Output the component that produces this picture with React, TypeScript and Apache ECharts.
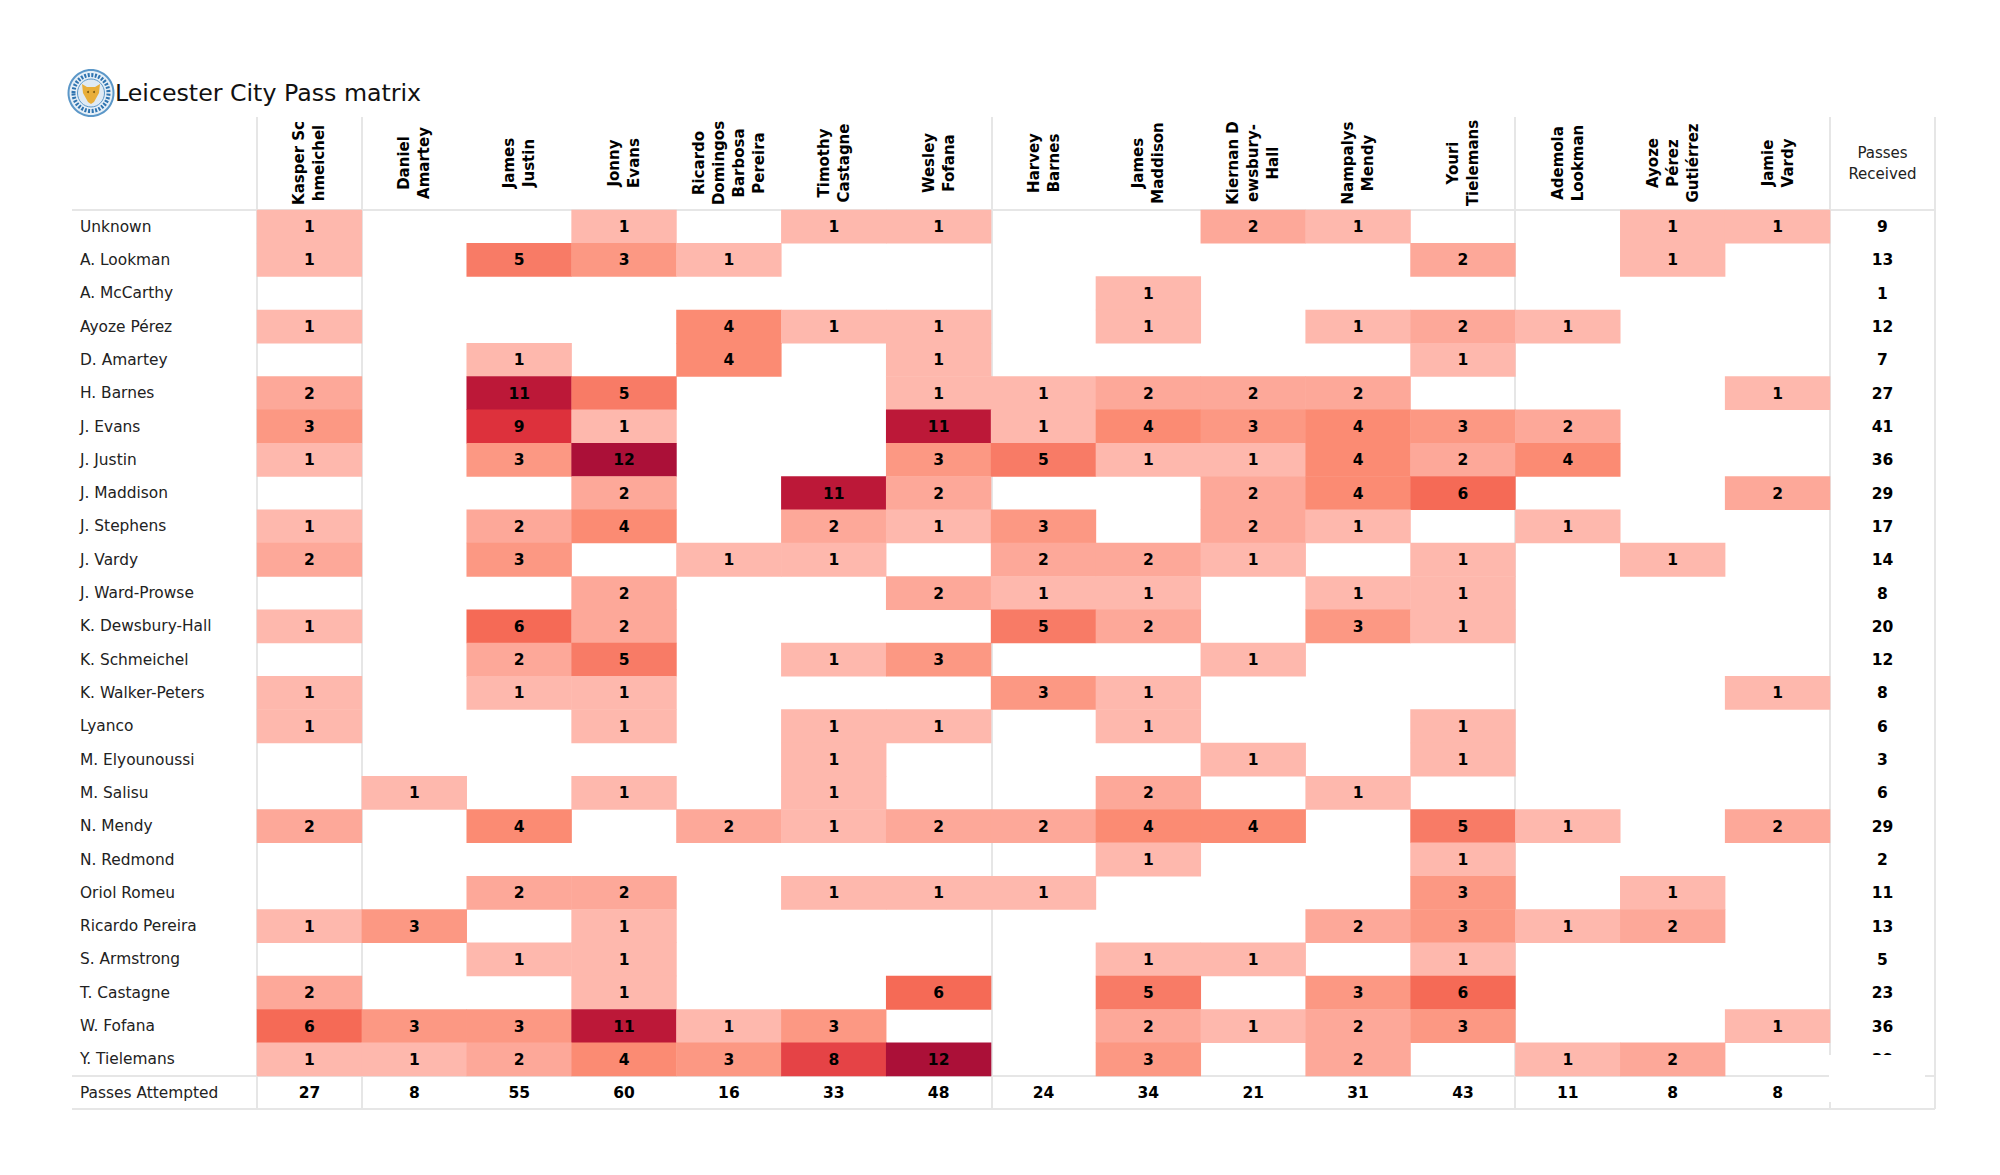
import React, { useEffect, useRef } from "react";
import * as echarts from "echarts";

const passers = ["Kasper Sc\nhmeichel","Daniel\nAmartey","James\nJustin","Jonny\nEvans","Ricardo\nDomingos\nBarbosa\nPereira","Timothy\nCastagne","Wesley\nFofana","Harvey\nBarnes","James\nMaddison","Kiernan D\newsbury-\nHall","Nampalys\nMendy","Youri\nTielemans","Ademola\nLookman","Ayoze\nPérez\nGutiérrez","Jamie\nVardy"];
const receivers = ["Unknown","A. Lookman","A. McCarthy","Ayoze Pérez","D. Amartey","H. Barnes","J. Evans","J. Justin","J. Maddison","J. Stephens","J. Vardy","J. Ward-Prowse","K. Dewsbury-Hall","K. Schmeichel","K. Walker-Peters","Lyanco","M. Elyounoussi","M. Salisu","N. Mendy","N. Redmond","Oriol Romeu","Ricardo Pereira","S. Armstrong","T. Castagne","W. Fofana","Y. Tielemans"];
const _ = null;
const matrix: (number | null)[][] = [
  [1,_,_,1,_,1,1,_,_,2,1,_,_,1,1],
  [1,_,5,3,1,_,_,_,_,_,_,2,_,1,_],
  [_,_,_,_,_,_,_,_,1,_,_,_,_,_,_],
  [1,_,_,_,4,1,1,_,1,_,1,2,1,_,_],
  [_,_,1,_,4,_,1,_,_,_,_,1,_,_,_],
  [2,_,11,5,_,_,1,1,2,2,2,_,_,_,1],
  [3,_,9,1,_,_,11,1,4,3,4,3,2,_,_],
  [1,_,3,12,_,_,3,5,1,1,4,2,4,_,_],
  [_,_,_,2,_,11,2,_,_,2,4,6,_,_,2],
  [1,_,2,4,_,2,1,3,_,2,1,_,1,_,_],
  [2,_,3,_,1,1,_,2,2,1,_,1,_,1,_],
  [_,_,_,2,_,_,2,1,1,_,1,1,_,_,_],
  [1,_,6,2,_,_,_,5,2,_,3,1,_,_,_],
  [_,_,2,5,_,1,3,_,_,1,_,_,_,_,_],
  [1,_,1,1,_,_,_,3,1,_,_,_,_,_,1],
  [1,_,_,1,_,1,1,_,1,_,_,1,_,_,_],
  [_,_,_,_,_,1,_,_,_,1,_,1,_,_,_],
  [_,1,_,1,_,1,_,_,2,_,1,_,_,_,_],
  [2,_,4,_,2,1,2,2,4,4,_,5,1,_,2],
  [_,_,_,_,_,_,_,_,1,_,_,1,_,_,_],
  [_,_,2,2,_,1,1,1,_,_,_,3,_,1,_],
  [1,3,_,1,_,_,_,_,_,_,2,3,1,2,_],
  [_,_,1,1,_,_,_,_,1,1,_,1,_,_,_],
  [2,_,_,1,_,_,6,_,5,_,3,6,_,_,_],
  [6,3,3,11,1,3,_,_,2,1,2,3,_,_,1],
  [1,1,2,4,3,8,12,_,3,_,2,_,1,2,_],
];
const passesReceived = [9,13,1,12,7,27,41,36,29,17,14,8,20,12,8,6,3,6,29,2,11,13,5,23,36,39];
const passesAttempted = [27,8,55,60,16,33,48,24,34,21,31,43,11,8,8];
const receivedHeader = "Passes\nReceived";
const attemptedLabel = "Passes Attempted";
const titleText = "Leicester City Pass matrix";
const colorStops = ["#feb8ad","#fda899","#fc9883","#fb8b73","#f87b66","#f56a56","#ee5850","#e54346","#dd313c","#cc2239","#bc1838","#ab1038"];

const X0 = 257, X1 = 1830, X2 = 1935, XL = 72;
const Y0 = 210, Y1 = 1076, Y2 = 1109, YT = 117;
const FONT = "'DejaVu Sans'";
const LINE = "#dedede";

const vline = (x: number, y1: number, y2: number, w = 1.5, c = LINE) => ({
  type: "line", z: 1, silent: true, shape: { x1: x, y1, x2: x, y2 }, style: { stroke: c, lineWidth: w },
});
const hline = (y: number, x1: number, x2: number, w = 2) => ({
  type: "line", z: 1, silent: true, shape: { x1, y1: y, x2, y2: y }, style: { stroke: "#e6e6e6", lineWidth: w },
});

const logo = {
  type: "group", x: 91, y: 93, z: 50, children: [
    { type: "ellipse", z: 50, shape: { cx: 0, cy: 0, rx: 23.5, ry: 24 }, style: { fill: "#5b97c8" } },
    { type: "ellipse", z: 51, shape: { cx: 0, cy: 0, rx: 21.5, ry: 22 }, style: { fill: "#e6eff7" } },
    { type: "ellipse", z: 52, shape: { cx: 0, cy: 0, rx: 17.5, ry: 18 }, style: { fill: "none", stroke: "#2f74b0", lineWidth: 4, lineDash: [2, 1.5] } },
    { type: "ellipse", z: 52, shape: { cx: 0, cy: 0, rx: 13.5, ry: 14 }, style: { fill: "#dfeaf4", stroke: "#5b97c8", lineWidth: 1 } },
    { type: "polygon", z: 53, shape: { points: [[-9,-9],[-4,-6],[4,-6],[9,-9],[8,0],[3,9],[0,11],[-3,9],[-8,0]] }, style: { fill: "#e8ae3a" } },
    { type: "circle", z: 54, shape: { cx: -3, cy: -1, r: 1 }, style: { fill: "#7a5a10" } },
    { type: "circle", z: 54, shape: { cx: 3, cy: -1, r: 1 }, style: { fill: "#7a5a10" } },
  ],
};

const valueLabel = {
  show: true,
  color: "#000",
  fontFamily: FONT,
  fontWeight: "bold" as const,
  fontSize: 15.5,
  offset: [0, 0.5],
  formatter: (p: any) => String(p.value[2]),
};

export default function App() {
  const ref = useRef<HTMLDivElement>(null);
  useEffect(() => {
    const chart = echarts.init(ref.current!, null, { renderer: "svg" });
    const cells: [number, number, number][] = [];
    matrix.forEach((row, r) => row.forEach((v, c) => { if (v !== null) cells.push([c, r, v]); }));
    chart.setOption({
      animation: false,
      backgroundColor: "#fff",
      grid: [
        { left: X0, top: Y0, width: X1 - X0, height: Y1 - Y0 },
        { left: X1, top: Y0, width: X2 - X1, height: Y1 - Y0 },
        { left: X0, top: Y1, width: X1 - X0, height: Y2 - Y1 },
      ],
      xAxis: [
        {
          type: "category", gridIndex: 0, position: "top", data: passers,
          axisLine: { show: false }, axisTick: { show: false },
          axisLabel: {
            interval: 0, rotate: -90, margin: 47, align: "center", verticalAlign: "middle", padding: [3, 0, 0, 0],
            fontFamily: FONT, fontWeight: "bold", fontSize: 15, lineHeight: 20, color: "#000",
          },
        },
        {
          type: "category", gridIndex: 1, position: "top", data: [receivedHeader],
          axisLine: { show: false }, axisTick: { show: false },
          axisLabel: { interval: 0, margin: 26, fontFamily: FONT, fontSize: 15, lineHeight: 21, color: "#222" },
        },
        {
          type: "category", gridIndex: 2, data: passers, show: false,
        },
      ],
      yAxis: [
        {
          type: "category", gridIndex: 0, inverse: true, data: receivers,
          axisLine: { show: false }, axisTick: { show: false },
          axisLabel: { interval: 0, margin: X0 - 80, align: "left", padding: [2, 0, 0, 0], fontFamily: FONT, fontSize: 15.4, color: "#222" },
        },
        { type: "category", gridIndex: 1, inverse: true, data: receivers, show: false },
        {
          type: "category", gridIndex: 2, data: [attemptedLabel],
          axisLine: { show: false }, axisTick: { show: false },
          axisLabel: { interval: 0, margin: X0 - 80, align: "left", padding: [2, 0, 0, 0], fontFamily: FONT, fontSize: 15.4, color: "#222" },
        },
      ],
      visualMap: [
        { show: false, seriesIndex: 0, min: 1, max: 12, inRange: { color: colorStops } },
        { show: false, seriesIndex: [1, 2], min: 0, max: 100, inRange: { color: ["rgba(255,255,255,0)", "rgba(255,255,255,0)"] } },
      ],
      series: [
        {
          type: "heatmap", xAxisIndex: 0, yAxisIndex: 0, data: cells, z: 2, label: valueLabel,
          itemStyle: { borderWidth: 0 }, emphasis: { disabled: true },
        },
        {
          type: "heatmap", xAxisIndex: 1, yAxisIndex: 1, z: 2, label: valueLabel,
          data: passesReceived.map((v, r) => [0, r, v]),
          emphasis: { disabled: true },
        },
        {
          type: "heatmap", xAxisIndex: 2, yAxisIndex: 2, z: 2, label: valueLabel,
          data: passesAttempted.map((v, c) => [c, 0, v]),
          emphasis: { disabled: true },
        },
      ],
      graphic: [
        { type: "text", x: 115, y: 93, z: 60, style: { text: titleText, fontFamily: FONT, fontSize: 23.7, fill: "#111", verticalAlign: "middle" } },
        logo,
        vline(X0, YT, Y2), vline(362, YT, Y2), vline(992, YT, Y2), vline(1515, YT, Y2), vline(X1, YT, Y2), vline(X2, YT, Y2),
        hline(Y0, XL, X2), hline(Y1, XL, X2), hline(Y2, XL, X2),
        { type: "rect", z: 100, silent: true, shape: { x: 1829, y: 1055, width: 96, height: 47 }, style: { fill: "#fff" } },
      ],
    });
    return () => chart.dispose();
  }, []);
  return <div ref={ref} style={{ position: "absolute", left: 0, top: 0, width: 2000, height: 1175 }} />;
}
